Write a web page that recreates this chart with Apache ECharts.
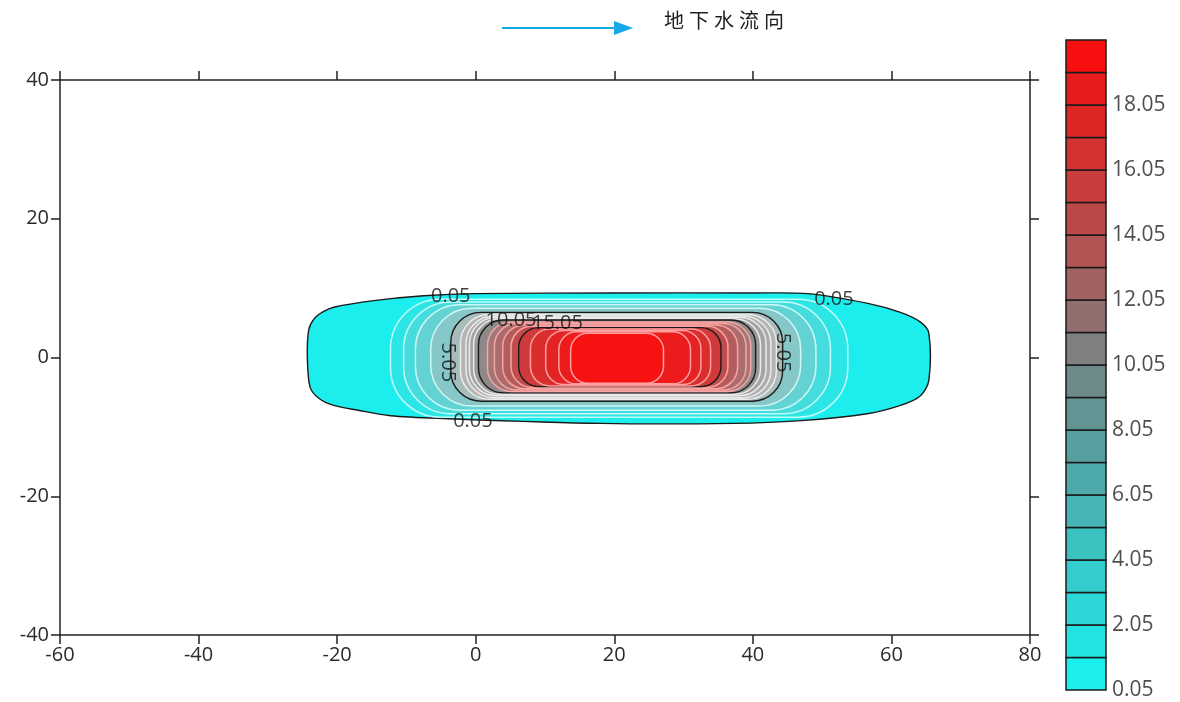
<!DOCTYPE html>
<html><head><meta charset="utf-8">
<script src="https://cdn.jsdelivr.net/npm/echarts@6/dist/echarts.min.js"></script>
<style>html,body{margin:0;padding:0;background:#fff}#c{width:1180px;height:702px}</style>
</head><body><div id="c"></div><script>
// ---- data ----
const xRange = [-60, 80];
const yRange = [-40, 40];
const levels = [0.05,1.05,2.05,3.05,4.05,5.05,6.05,7.05,8.05,9.05,10.05,11.05,12.05,13.05,14.05,15.05,16.05,17.05,18.05,19.05];
const colorbarTop = 20.05;
const colorbarTickLabels = [0.05,2.05,4.05,6.05,8.05,10.05,12.05,14.05,16.05,18.05];
const bandColors = ['#1ceeee','#24e2e2','#2cd7d7','#34cccc','#3cc1c1','#45b5b5','#4eaaaa','#589f9f','#629494','#6e8a8a',
                    '#808080','#926e6e','#a26262','#b05454','#bd4848','#c83c3c','#d23232','#dd2727','#e81c1c','#f80f0f'];
// fills as they appear inside the plot (lighter, between dense contour lines)
const plotFills = ['#1ceeee','#2ce6e6','#44dcdc','#62d2d2','#86c8c8','#a8bcbc','#b4b4b4','#acacac','#a4a4a4','#9a9a9a',
                   '#8e8a8a','#a07878','#aa6c6c','#b45c5c','#c04c4c','#d03a3a','#da2e2e','#e42424','#ec1c1c','#f71212'];
// outermost 0.05 contour, read point by point
const outerX = [-24.3,-24.1,-23.3,-22.0,-20.5,-14.7,-7.5,0,20,40,47.9,56.6,61.3,64.2,65.4,65.4,64.2,61.3,56.5,46.9,37.2,18,-4.6,-12.3,-17,-20.5,-22.6,-23.9];
const outerY = [0,4.0,5.6,6.6,7.25,8.2,8.9,9.2,9.3,9.3,9.2,7.8,6.5,5.1,3.5,-3.3,-5.5,-6.9,-8.1,-9.1,-9.5,-9.5,-8.8,-8.4,-7.6,-6.9,-5.9,-4.3];
// inner contours 1.05 .. 19.05 (left, right, top, bottom edges)
const innerLevels = [1.05,2.05,3.05,4.05,5.05,6.05,7.05,8.05,9.05,10.05,11.05,12.05,13.05,14.05,15.05,16.05,17.05,18.05,19.05];
const innerLeft   = [-12.3,-10.4,-8.7,-6.5,-3.6,-2.2,-1.4,-0.9,-0.3,0.4,1.7,2.7,3.9,5.1,6.2,7.9,10.1,12.0,13.7];
const innerRight  = [53.7,51.2,49.1,46.9,44.3,43.4,42.6,41.9,41.1,40.4,39.7,39.0,37.8,36.4,35.4,33.9,32.5,31.0,27.1];
const innerTop    = [8.4,8.0,7.6,7.1,6.5,6.2,6.0,5.8,5.6,5.4,5.1,4.9,4.7,4.5,4.3,4.1,3.9,3.7,3.5];
const innerBottom = [-8.6,-8.1,-7.6,-7.0,-6.3,-6.0,-5.8,-5.5,-5.3,-5.1,-4.9,-4.7,-4.5,-4.3,-4.2,-4.1,-3.9,-3.8,-3.7];
// contour labels
const labelText   = ['0.05','0.05','0.05','5.05','5.05','10.05','15.05'];
const labelX      = [-3.6, 51.7, -0.4, -4.0, 44.3, 5.1, 11.8];
const labelY      = [8.8, 8.4, -9.2, -0.7, 0.7, 5.3, 5.0];
const labelRotate = [0, 0, 0, -90, -90, 0, 0];
const flowTitle = '地下水流向';

// ---- helpers (style only) ----
function levelIndex(v){ return levels.indexOf(v); }
function strokeFor(idx){
  if (idx % 5 === 0) return '#1a1a1a';
  if (idx < 5) return 'rgba(235,255,255,0.8)';
  if (idx < 10) return 'rgba(238,238,238,0.95)';
  return 'rgba(255,165,165,0.95)';
}

const outerData = [outerX.map((x,i)=>[x, outerY[i]])];
const innerData = innerLevels.map((v,i)=>[innerLeft[i], innerRight[i], innerTop[i], innerBottom[i], v]);
const labelData = labelText.map((t,i)=>({value:[labelX[i], labelY[i]], name:t, label:{rotate: labelRotate[i]}}));
const barData = levels.map((v,i)=>[v, i < levels.length-1 ? levels[i+1] : colorbarTop, i]);
const barLabelData = colorbarTickLabels.map(v=>[1, v]);

const chart = echarts.init(document.getElementById('c'), null, {renderer:'canvas'});
const axisCommon = {
  type:'value', axisLine:{show:true, onZero:false, lineStyle:{color:'#222', width:1.5}},
  axisTick:{show:true, inside:false, length:9, lineStyle:{color:'#222', width:1.5}},
  splitLine:{show:false},
  axisLabel:{color:'#2a2a2a', fontSize:20, fontFamily:'Open Sans'}
};
chart.setOption({
  animation:false,
  grid:[{left:60, right:150, top:80, bottom:67}, {left:1066, top:40, width:40, height:650}],
  xAxis:[
    Object.assign({}, axisCommon, {gridIndex:0, position:'bottom', min:xRange[0], max:xRange[1], interval:20, axisLabel:Object.assign({}, axisCommon.axisLabel, {margin:10})}),
    Object.assign({}, axisCommon, {gridIndex:0, position:'top', min:xRange[0], max:xRange[1], interval:20, axisLabel:{show:false}}),
    {type:'value', gridIndex:1, min:0, max:1, show:false}
  ],
  yAxis:[
    Object.assign({}, axisCommon, {gridIndex:0, position:'left', min:yRange[0], max:yRange[1], interval:20, axisLabel:Object.assign({}, axisCommon.axisLabel, {margin:11})}),
    Object.assign({}, axisCommon, {gridIndex:0, position:'right', min:yRange[0], max:yRange[1], interval:20, axisLabel:{show:false}}),
    {type:'value', gridIndex:1, min:levels[0], max:colorbarTop, show:false}
  ],
  graphic:[
    {type:'line', shape:{x1:502, y1:28, x2:618, y2:28}, style:{stroke:'#17a8e6', lineWidth:2.2}},
    {type:'polygon', shape:{points:[[614,21],[633,28],[614,35]]}, style:{fill:'#17a8e6'}},
  ].concat(flowTitle.split('').map((ch,i)=>({type:'text', left:664 + i*25, top:10,
     style:{text:ch, font:'20px "Noto Sans CJK SC"', fill:'#1e1e1e'}}))),
  series:[
    {
      type:'custom', xAxisIndex:0, yAxisIndex:0, coordinateSystem:'cartesian2d', data:outerData,
      renderItem:function(params, api){
        const pts = outerData[params.dataIndex].map(p=>api.coord(p));
        return {type:'polygon', shape:{points:pts, smooth:0.3},
          style:{fill:plotFills[0], stroke:'#1a1a1a', lineWidth:1.4}};
      }
    },
    {
      type:'custom', xAxisIndex:0, yAxisIndex:0, coordinateSystem:'cartesian2d', data:innerData,
      renderItem:function(params, api){
        const l = api.value(0), r = api.value(1), t = api.value(2), b = api.value(3), v = api.value(4);
        const idx = levelIndex(v);
        const p1 = api.coord([l, t]), p2 = api.coord([r, b]);
        const h = p2[1]-p1[1];
        const rad = idx < 5 ? h*0.42 : h*0.34;
        return {type:'rect', shape:{x:p1[0], y:p1[1], width:p2[0]-p1[0], height:h, r:rad},
          style:{fill:plotFills[idx], stroke:strokeFor(idx), lineWidth: idx%5===0 ? 1.4 : 1.5}};
      }
    },
    {
      type:'scatter', xAxisIndex:0, yAxisIndex:0, symbolSize:0, data:labelData, silent:true,
      label:{show:true, position:'inside', formatter:p=>p.name, color:'#111', fontSize:20, fontFamily:'Open Sans', textBorderWidth:0}
    },
    {
      type:'custom', xAxisIndex:2, yAxisIndex:2, coordinateSystem:'cartesian2d', data:barData,
      renderItem:function(params, api){
        const lo = api.value(0), hi = api.value(1), idx = api.value(2);
        const p1 = api.coord([0, hi]), p2 = api.coord([1, lo]);
        return {type:'rect', shape:{x:p1[0], y:p1[1], width:p2[0]-p1[0], height:p2[1]-p1[1]},
          style:{fill:bandColors[idx], stroke:'#1a1a1a', lineWidth:1.5}};
      }
    },
    {
      type:'scatter', xAxisIndex:2, yAxisIndex:2, symbolSize:0, data:barLabelData, silent:true,
      label:{show:true, position:'right', distance:6, formatter:p=>p.value[1].toFixed(2), color:'#222', fontSize:21, fontFamily:'Open Sans'}
    }
  ]
});
</script></body></html>
